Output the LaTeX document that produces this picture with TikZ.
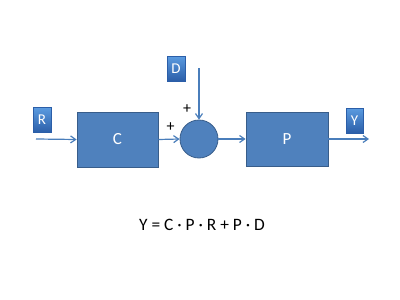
\documentclass[tikz,border=0pt]{standalone}
\usepackage{fontspec}
\setmainfont{Carlito}
\usetikzlibrary{arrows.meta}
\definecolor{boxfill}{HTML}{4F81BD}
\definecolor{boxline}{HTML}{385D8A}
\definecolor{arrowc}{HTML}{4A7EBB}
\definecolor{labtop}{HTML}{5B9BE0}
\definecolor{labbot}{HTML}{2B5EA8}
\tikzset{
  block/.style={draw=boxline, fill=boxfill, line width=0.8pt, text=white, font=\fontsize{17}{17}\selectfont, inner sep=0pt},
  lab/.style={top color=labtop, bottom color=labbot, draw=labbot, line width=0.4pt, text=white, font=\fontsize{15}{15}\selectfont, inner sep=0pt, minimum width=18pt, minimum height=25pt},
  conn/.style={draw=arrowc, line width=1.2pt, -{Straight Barb[length=5pt,width=7pt,line width=1.2pt]}},
  sgn/.style={font=\fontsize{16}{16}\selectfont, inner sep=0pt}
}
\begin{document}
\begin{tikzpicture}[x=1pt,y=-1pt]
\useasboundingbox (0,0) rectangle (400,300);
\node[block, minimum width=81pt, minimum height=55pt] (C) at (117.5,139.5) {C};
\node[block, minimum width=82pt, minimum height=54pt] (P) at (287,139) {P};
\node[block, circle, minimum size=38pt] (S) at (199,139) {};
\node[lab] (R) at (42,120) {R};
\node[lab] (D) at (176,68.5) {D};
\node[lab, minimum width=17pt] (Y) at (354.5,120.5) {Y};
\coordinate (rin) at (36,139);
\coordinate (dtop) at (199,68);
\coordinate (yout) at (369,139);
\draw[conn] (rin) -- (C.west);
\draw[conn] (C.east) -- (S.west);
\draw[conn] (dtop) -- (S.north);
\draw[conn] (S.east) -- (P.west);
\draw[conn] (P.east) -- (yout);
\node[sgn] (p1) at (170.5,127) {+};
\node[sgn] (p2) at (187,109.5) {+};
\node[font=\fontsize{17.4}{17.4}\selectfont] (eq) at (202,225) {Y = C · P · R + P · D};
\end{tikzpicture}
\end{document}
